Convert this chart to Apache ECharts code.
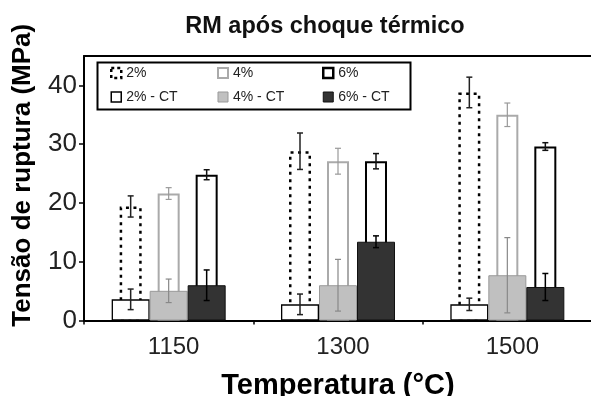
<!DOCTYPE html>
<html>
<head>
<meta charset="utf-8">
<script src="https://cdn.jsdelivr.net/npm/echarts@6/dist/echarts.min.js"></script>
<style>
html,body{margin:0;padding:0;background:#fff;}
#chart{width:591px;height:396px;}
</style>
</head>
<body>
<div id="chart"></div>
<script>
var categories = ['1150', '1300', '1500'];
var yTickLabels = [0, 10, 20, 30, 40];

var v2 = [19.4, 28.8, 38.8];
var e2 = [1.8, 3.1, 2.6];
var v4 = [21.6, 27.1, 35.0];
var e4 = [1.0, 2.2, 2.0];
var v6 = [24.8, 27.1, 29.6];
var e6 = [0.85, 1.3, 0.65];

var v2ct = [3.6, 2.75, 2.75];
var e2ct = [1.75, 1.75, 1.05];
var v4ct = [5.05, 6.0, 7.7];
var e4ct = [2.0, 4.4, 6.4];
var v6ct = [6.0, 13.4, 5.7];
var e6ct = [2.6, 1.0, 2.3];

var FONT = 'Liberation Sans, Arial, sans-serif';
var CT_W = 38, N_W = 22;

function errSeries(name, axisIdx, vals, errs, slot, color, lw) {
  var data = vals.map(function (v, i) { return [i, v, errs[i]]; });
  return {
    type: 'custom',
    name: name + '_err',
    xAxisIndex: axisIdx,
    z: 5,
    silent: true,
    data: data,
    renderItem: function (params, api) {
      var ci = api.value(0), val = api.value(1), er = api.value(2);
      var hi = api.coord([ci, val + er]);
      var lo = api.coord([ci, val - er]);
      var x = hi[0] + slot * CT_W;
      var cap = 3;
      var st = { stroke: color, lineWidth: lw };
      return {
        type: 'group',
        children: [
          { type: 'line', shape: { x1: x, y1: hi[1], x2: x, y2: lo[1] }, style: st },
          { type: 'line', shape: { x1: x - cap, y1: hi[1], x2: x + cap, y2: hi[1] }, style: st },
          { type: 'line', shape: { x1: x - cap, y1: lo[1], x2: x + cap, y2: lo[1] }, style: st }
        ]
      };
    }
  };
}

var chart = echarts.init(document.getElementById('chart'), null, { renderer: 'canvas' });
var legendCommon = {
  orient: 'vertical', top: 66, itemGap: 10, padding: 0,
  itemWidth: 10, itemHeight: 10, icon: 'rect',
  textStyle: { fontSize: 14, color: '#222', fontFamily: FONT, lineHeight: 14 }
};
var option = {
  backgroundColor: '#fff',
  animation: false,
  textStyle: { fontFamily: FONT },
  title: {
    text: 'RM após choque térmico',
    left: 320, top: 10, textAlign: 'center',
    textStyle: { fontSize: 23.5, fontWeight: 'bold', color: '#111', fontFamily: FONT }
  },
  graphic: [{
    type: 'rect', left: 95, top: 60, z: 100,
    shape: { width: 313, height: 47 },
    style: { fill: 'none', stroke: '#000', lineWidth: 2 }
  }],
  legend: [
    Object.assign({}, legendCommon, { left: 110, data: [
      { name: '2%', itemStyle: { color: '#fff', borderColor: '#000', borderWidth: 2.5, borderType: [3, 3] } },
      { name: '2% - CT', itemStyle: { color: '#fff', borderColor: '#000', borderWidth: 1.5 } }
    ] }),
    Object.assign({}, legendCommon, { left: 217, data: [
      { name: '4%', itemStyle: { color: '#fff', borderColor: '#aaa', borderWidth: 2 } },
      { name: '4% - CT', itemStyle: { color: '#c0c0c0', borderColor: '#999', borderWidth: 1 } }
    ] }),
    Object.assign({}, legendCommon, { left: 322, data: [
      { name: '6%', itemStyle: { color: '#fff', borderColor: '#000', borderWidth: 2.5 } },
      { name: '6% - CT', itemStyle: { color: '#333', borderColor: '#111', borderWidth: 1 } }
    ] })
  ],
  grid: { left: 84, top: 56, width: 508, height: 264.5, containLabel: false, outerBoundsMode: 'none' },
  xAxis: [{
    type: 'category', data: categories, position: 'bottom',
    name: 'Temperatura (°C)', nameLocation: 'middle', nameGap: 51,
    nameTextStyle: { fontSize: 29, fontWeight: 'bold', color: '#000', fontFamily: FONT },
    axisLine: { lineStyle: { color: '#000', width: 2 } },
    axisTick: { show: true, interval: 0, length: 4, lineStyle: { color: '#000', width: 1.5 } },
    axisLabel: { fontSize: 24, color: '#222', margin: 15, padding: [0, 0, 0, 10], fontFamily: FONT },
    splitLine: { show: false }
  }, {
    type: 'category', data: categories, position: 'top',
    axisLine: { lineStyle: { color: '#000', width: 2 } },
    axisTick: { show: false }, axisLabel: { show: false }, splitLine: { show: false }
  }],
  yAxis: {
    type: 'value', min: 0, max: 45, interval: 10,
    name: 'Tensão de ruptura (MPa)', nameLocation: 'middle', nameGap: 48,
    nameTextStyle: { fontSize: 26, fontWeight: 'bold', color: '#000', fontFamily: FONT, padding: [0, 0, 0, 26] },
    axisLine: { show: true, lineStyle: { color: '#000', width: 2 } },
    axisTick: { show: true, length: 5, customValues: yTickLabels, lineStyle: { color: '#000', width: 1.5 } },
    axisLabel: { fontSize: 26, color: '#222', margin: 7, customValues: yTickLabels, fontFamily: FONT },
    splitLine: { show: false }
  },
  series: [
    { name: '2%', type: 'bar', xAxisIndex: 1, data: v2, barWidth: N_W, barGap: '72.7%',
      itemStyle: { color: '#fff', borderColor: '#000', borderWidth: 2.5, borderType: [3, 4.5] } },
    { name: '4%', type: 'bar', xAxisIndex: 1, data: v4, barWidth: N_W, barGap: '72.7%',
      itemStyle: { color: '#fff', borderColor: '#aaa', borderWidth: 2 } },
    { name: '6%', type: 'bar', xAxisIndex: 1, data: v6, barWidth: N_W, barGap: '72.7%',
      itemStyle: { color: '#fff', borderColor: '#000', borderWidth: 2 } },
    { name: '2% - CT', type: 'bar', xAxisIndex: 0, data: v2ct, barWidth: CT_W, barGap: 0, z: 3,
      itemStyle: { color: '#fff', borderColor: '#000', borderWidth: 1.3 } },
    { name: '4% - CT', type: 'bar', xAxisIndex: 0, data: v4ct, barWidth: CT_W, barGap: 0, z: 3,
      itemStyle: { color: '#c0c0c0', borderColor: '#999', borderWidth: 1 } },
    { name: '6% - CT', type: 'bar', xAxisIndex: 0, data: v6ct, barWidth: CT_W, barGap: 0, z: 3,
      itemStyle: { color: '#333', borderColor: '#111', borderWidth: 1 } },
    errSeries('2%', 1, v2, e2, -1, '#222', 1.5),
    errSeries('4%', 1, v4, e4, 0, '#999', 1.2),
    errSeries('6%', 1, v6, e6, 1, '#111', 1.5),
    errSeries('2% - CT', 0, v2ct, e2ct, -1, '#222', 1.5),
    errSeries('4% - CT', 0, v4ct, e4ct, 0, '#888', 1.2),
    errSeries('6% - CT', 0, v6ct, e6ct, 1, '#000', 1.5)
  ]
};
chart.setOption(option);
</script>
</body>
</html>
